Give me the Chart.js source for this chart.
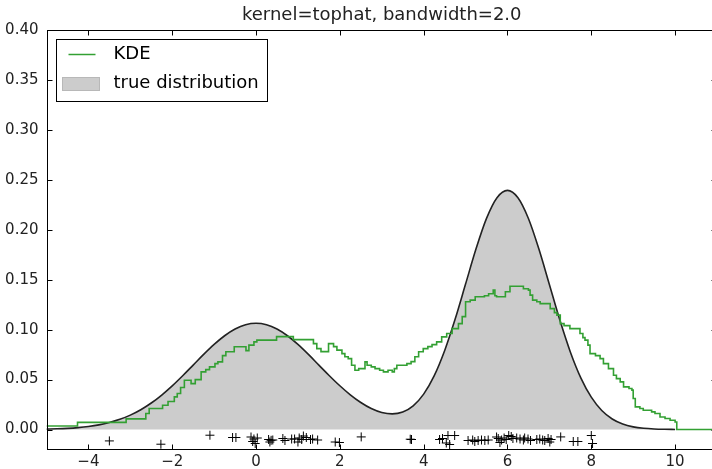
<!DOCTYPE html>
<html>
<head>
<meta charset="utf-8">
<script src="https://cdn.jsdelivr.net/npm/chart.js@4.4.1/dist/chart.umd.min.js"></script>
<style>
html,body{margin:0;padding:0;background:#fff;overflow:hidden;width:712px;height:469px}
#wrap{position:relative;width:724px;height:469px}
</style>
</head>
<body>
<div id="wrap"><canvas id="c" width="724" height="469"></canvas></div>
<script>
const titleText = 'kernel=tophat, bandwidth=2.0';
const legendLabels = ['KDE', 'true distribution'];
const xTicks = [-4, -2, 0, 2, 4, 6, 8, 10];
const yTicks = [0, 0.05, 0.10, 0.15, 0.20, 0.25, 0.30, 0.35, 0.40];

// true distribution curve
const trueX = [-5,-4.75,-4.5,-4.25,-4,-3.75,-3.5,-3.25,-3,-2.75,-2.5,-2.25,-2,-1.75,-1.5,-1.25,-1,-0.75,-0.5,-0.25,
  0,0.25,0.5,0.75,1,1.25,1.5,1.75,2,2.25,2.5,2.75,3,3.25,3.5,3.75,4,4.25,4.5,4.75,
  5,5.25,5.5,5.75,6,6.25,6.5,6.75,7,7.25,7.5,7.75,8,8.25,8.5,8.75,9,9.25,9.5,9.75,10];
const trueY = [0.00041,0.00071,0.00118,0.00192,0.00304,0.00467,0.00699,0.01017,0.01440,0.01982,0.02653,0.03454,0.04373,0.05386,0.06452,0.07518,0.08518,0.09388,0.10063,0.10491,
  0.10638,0.10491,0.10063,0.09388,0.08518,0.07518,0.06453,0.05389,0.04381,0.03475,0.02705,0.02103,0.01706,0.01563,0.01751,0.02372,0.03543,0.05369,0.07889,0.11030,
  0.14560,0.18092,0.21137,0.23207,0.23941,0.23202,0.21125,0.18069,0.14519,0.10959,0.07771,0.05177,0.03240,0.01904,0.01052,0.00546,0.00266,0.00122,0.00052,0.00021,0.00008];

// KDE step line: value holds from each x to the next x
const kdeX = [-5.00,-4.26,-3.10,-2.63,-2.55,-2.23,-2.10,-1.95,-1.88,-1.80,-1.71,-1.55,-1.45,-1.31,-1.20,-1.11,-0.98,-0.91,-0.80,-0.72,
  -0.52,-0.24,-0.17,-0.05,0.02,0.49,0.89,1.37,1.45,1.55,1.73,1.85,1.93,2.05,2.12,2.20,2.28,2.36,2.45,2.60,
  2.65,2.75,2.84,2.95,3.04,3.15,3.25,3.30,3.36,3.50,3.60,3.70,3.79,3.88,3.99,4.10,4.20,4.31,4.43,4.55,
  4.68,4.83,4.92,5.00,5.11,5.23,5.45,5.55,5.66,5.70,5.74,5.95,6.06,6.38,6.50,6.54,6.60,6.70,6.78,7.02,
  7.12,7.18,7.26,7.35,7.49,7.73,7.80,7.85,7.92,7.97,8.10,8.21,8.29,8.41,8.53,8.60,8.69,8.77,8.90,8.97,
  9.00,9.05,9.16,9.24,9.44,9.52,9.64,9.76,9.88,10.00,10.04,11.00];
const kdeY = [0.0036,0.0072,0.0107,0.0160,0.0210,0.0243,0.0280,0.0327,0.0360,0.0420,0.0494,0.0460,0.0500,0.0577,0.0600,0.0627,0.0660,0.0677,0.0740,0.0778,
  0.0828,0.0790,0.0845,0.0878,0.0895,0.0930,0.0900,0.0860,0.0810,0.0780,0.0860,0.0830,0.0795,0.0760,0.0728,0.0710,0.0644,0.0594,0.0610,0.0677,
  0.0644,0.0627,0.0610,0.0594,0.0577,0.0594,0.0577,0.0610,0.0644,0.0644,0.0660,0.0680,0.0728,0.0778,0.0810,0.0830,0.0850,0.0878,0.0928,0.0962,
  0.1010,0.1060,0.1130,0.1280,0.1296,0.1330,0.1340,0.1360,0.1396,0.1340,0.1330,0.1380,0.1435,0.1410,0.1396,0.1346,0.1296,0.1280,0.1260,0.1210,
  0.1170,0.1145,0.1060,0.1040,0.1010,0.0962,0.0920,0.0895,0.0845,0.0760,0.0740,0.0710,0.0660,0.0610,0.0544,0.0510,0.0477,0.0427,0.0410,0.0394,
  0.0310,0.0227,0.0210,0.0193,0.0177,0.0160,0.0126,0.0110,0.0093,0.0076,0.0000,0.0000];

// sample points ('+' markers)
const sampleX = [-3.50,-2.27,-1.10,-0.56,-0.48,-0.12,-0.08,-0.05,-0.02,0.03,0.30,0.33,0.36,0.40,0.64,0.69,0.85,0.92,1.00,1.03,1.09,1.13,1.20,1.30,1.35,1.47,1.89,1.99,2.51,
  3.68,3.71,4.38,4.45,4.54,4.58,4.62,4.74,5.06,5.17,5.22,5.30,5.38,5.46,5.54,5.74,5.78,5.82,5.86,5.92,5.97,6.03,6.09,6.13,6.22,6.30,6.38,6.41,
  6.49,6.55,6.70,6.77,6.84,6.89,6.97,7.01,7.04,7.27,7.57,7.68,8.00,8.03];
const sampleY = [-0.0114,-0.0147,-0.0057,-0.0080,-0.0080,-0.0075,-0.0120,-0.0095,-0.0140,-0.0085,-0.0100,-0.0125,-0.0108,-0.0105,-0.0090,-0.0110,-0.0095,-0.0095,-0.0125,-0.0085,-0.0100,-0.0065,-0.0080,-0.0100,-0.0095,-0.0105,-0.0125,-0.0130,-0.0074,
  -0.0097,-0.0100,-0.0100,-0.0090,-0.0135,-0.0060,-0.0150,-0.0060,-0.0110,-0.0105,-0.0120,-0.0110,-0.0105,-0.0110,-0.0105,-0.0075,-0.0090,-0.0130,-0.0105,-0.0085,-0.0100,-0.0060,-0.0070,-0.0090,-0.0085,-0.0095,-0.0105,-0.0085,
  -0.0095,-0.0110,-0.0100,-0.0095,-0.0105,-0.0110,-0.0090,-0.0125,-0.0100,-0.0074,-0.0120,-0.0120,-0.0060,-0.0140];

const GREEN = '#33a033';
const FONT = '"DejaVu Sans", "Liberation Sans", sans-serif';

const toPts = (xs, ys) => xs.map((x, i) => ({x: x, y: ys[i]}));

const framePlugin = {
  id: 'frame',
  afterLayout(chart) {
    const t = chart.titleBlock, ca = chart.chartArea;
    if (t) { t.left = ca.left; t.right = ca.right; t.width = ca.right - ca.left; }
  },
  afterDatasetsDraw(chart) {
    const {ctx, chartArea: ca, scales} = chart;
    ctx.save();
    ctx.strokeStyle = '#000';
    ctx.lineWidth = 1;
    const L = Math.round(ca.left) + 0.5, R = Math.round(ca.right) - 0.5;
    const T = Math.round(ca.top) + 0.5, B = Math.round(ca.bottom) - 0.5;
    ctx.strokeRect(L, T, R - L, B - T);
    const tl = 5;
    ctx.beginPath();
    xTicks.forEach(v => {
      const px = Math.round(scales.x.getPixelForValue(v)) + 0.5;
      ctx.moveTo(px, B); ctx.lineTo(px, B - tl);
      ctx.moveTo(px, T); ctx.lineTo(px, T + tl);
    });
    yTicks.forEach(v => {
      const py = Math.round(scales.y.getPixelForValue(v)) + 0.5;
      ctx.moveTo(L, py); ctx.lineTo(L + tl, py);
      ctx.moveTo(R, py); ctx.lineTo(R - tl, py);
    });
    ctx.stroke();
    ctx.restore();
  },
  afterDraw(chart) {
    const {ctx, chartArea: ca} = chart;
    ctx.save();
    const bx = Math.round(ca.left) + 9.5, by = Math.round(ca.top) + 9.5;
    const bw = 211, bh = 62;
    ctx.fillStyle = '#fff';
    ctx.fillRect(bx, by, bw, bh);
    ctx.strokeStyle = '#000';
    ctx.lineWidth = 1;
    ctx.strokeRect(bx, by, bw, bh);
    ctx.strokeStyle = GREEN;
    ctx.lineWidth = 1.5;
    ctx.beginPath();
    ctx.moveTo(bx + 12, by + 15); ctx.lineTo(bx + 39, by + 15);
    ctx.stroke();
    ctx.fillStyle = '#cccccc';
    ctx.fillRect(bx + 6, by + 38, 37, 13);
    ctx.strokeStyle = '#b8b8b8';
    ctx.lineWidth = 1;
    ctx.strokeRect(bx + 6, by + 38, 37, 13);
    ctx.fillStyle = '#000';
    ctx.font = '18px ' + FONT;
    ctx.textBaseline = 'middle';
    ctx.textAlign = 'left';
    ctx.fillText(legendLabels[0], bx + 57, by + 15);
    ctx.fillText(legendLabels[1], bx + 57, by + 44);
    ctx.restore();
  }
};

new Chart(document.getElementById('c'), {
  type: 'scatter',
  data: {
    datasets: [
      {
        label: 'samples',
        data: toPts(sampleX, sampleY),
        showLine: false,
        pointStyle: 'cross',
        pointRadius: 4.5,
        pointBorderColor: '#000',
        pointBorderWidth: 1,
        pointBackgroundColor: '#000',
        order: 0
      },
      {
        label: legendLabels[0],
        data: toPts(kdeX, kdeY),
        showLine: true,
        stepped: 'before',
        borderColor: GREEN,
        borderWidth: 1.6,
        pointRadius: 0,
        fill: false,
        order: 1
      },
      {
        label: legendLabels[1],
        data: toPts(trueX, trueY),
        showLine: true,
        cubicInterpolationMode: 'monotone',
        borderColor: '#222',
        borderWidth: 1.6,
        backgroundColor: '#cccccc',
        fill: 'origin',
        pointRadius: 0,
        order: 2
      }
    ]
  },
  options: {
    responsive: false,
    animation: false,
    devicePixelRatio: 1,
    events: [],
    layout: {padding: {left: 0, right: 7, top: 0, bottom: 0}},
    plugins: {
      legend: {display: false},
      tooltip: {enabled: false},
      title: {
        display: true,
        text: titleText,
        color: '#222',
        font: {family: FONT, size: 18, weight: 'normal'},
        padding: {top: 5, bottom: 3.4}
      }
    },
    scales: {
      x: {
        type: 'linear',
        min: -5, max: 11,
        afterBuildTicks: s => { s.ticks = xTicks.map(v => ({value: v})); },
        afterFit: s => { s.height = 19.5; },
        grid: {display: false, drawTicks: false},
        border: {display: false},
        ticks: {
          autoSkip: false, maxRotation: 0, padding: 4,
          color: '#222',
          font: {family: FONT, size: 15},
          callback: v => (v < 0 ? '\u2212' + Math.abs(v) : String(v))
        }
      },
      y: {
        type: 'linear',
        min: -0.02, max: 0.40,
        afterBuildTicks: s => { s.ticks = yTicks.map(v => ({value: v})); },
        afterFit: s => { s.width = 46.5; },
        grid: {display: false, drawTicks: false},
        border: {display: false},
        ticks: {
          padding: 8,
          color: '#222',
          font: {family: FONT, size: 15},
          callback: v => Number(v).toFixed(2)
        }
      }
    }
  },
  plugins: [framePlugin]
});
</script>
</body>
</html>
